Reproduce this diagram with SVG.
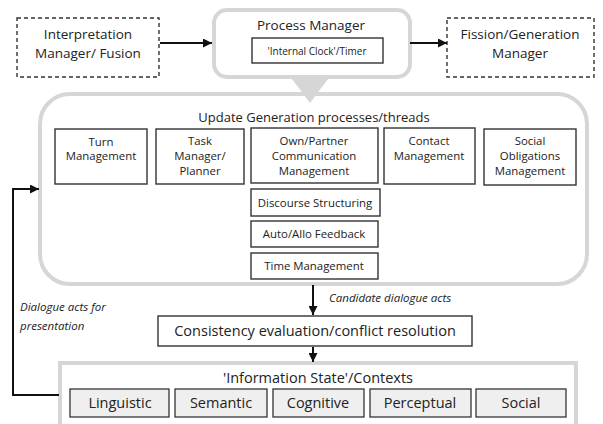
<svg xmlns="http://www.w3.org/2000/svg" width="603" height="424" viewBox="0 0 603 424">
  <defs>
    <marker id="arrow" viewBox="0 0 10 10" refX="10" refY="5" markerWidth="9" markerHeight="9" markerUnits="userSpaceOnUse" orient="auto">
      <path d="M0,0 L10,5 L0,10 z" fill="#111"/>
    </marker>
    <style>
      text { font-family: "Open Sans", "Liberation Sans", sans-serif; fill: #222; text-anchor: middle; }
      .dash { fill: #fff; stroke: #333; stroke-width: 1.4; stroke-dasharray: 4 3; }
      .soft { fill: #fff; stroke: #d6d6d6; stroke-width: 4; }
      .box { fill: #fff; stroke: #333; stroke-width: 1.4; }
      .ctx { fill: #efefef; stroke: #333; stroke-width: 1.3; }
      .conn { fill: none; stroke: #111; stroke-width: 2; }
      .t13 { font-size: 13.5px; }
      .t12 { font-size: 13px; }
      .t11 { font-size: 11.4px; }
      .t10 { font-size: 10px; }
      .t14 { font-size: 14.5px; }
      .it { font-style: italic; font-size: 11.5px; text-anchor: start; }
    </style>
  </defs>

  <!-- update generation container -->
  <g id="update-generation">
    <rect class="soft" x="40" y="94" width="547" height="190" rx="30"/>
    <text class="t12" x="314" y="122">Update Generation processes/threads</text>
  </g>

  <!-- process manager with callout tail -->
  <g id="process-manager">
    <rect class="soft" x="214" y="10" width="196" height="67" rx="13"/>
    <polygon points="292,79 328,79 310,103" fill="#d6d6d6"/>
    <text class="t13" x="311" y="30">Process Manager</text>
    <rect class="box" x="252" y="38" width="131" height="25"/>
    <text class="t10" x="317" y="55">'Internal Clock'/Timer</text>
  </g>

  <g id="interpretation-manager">
    <rect class="dash" x="17" y="18" width="142" height="59"/>
    <text class="t13" x="88" y="39">Interpretation</text>
    <text class="t13" x="88" y="58">Manager/ Fusion</text>
  </g>

  <g id="fission-manager">
    <rect class="dash" x="447" y="18" width="147" height="59"/>
    <text class="t13" x="520" y="39">Fission/Generation</text>
    <text class="t13" x="520" y="58">Manager</text>
  </g>

  <g id="turn-management">
    <rect class="box" x="55" y="129" width="92" height="55"/>
    <text class="t11" x="101" y="146">Turn</text>
    <text class="t11" x="101" y="160">Management</text>
  </g>

  <g id="task-manager">
    <rect class="box" x="156" y="129" width="88" height="55"/>
    <text class="t11" x="200" y="145">Task</text>
    <text class="t11" x="200" y="160">Manager/</text>
    <text class="t11" x="200" y="175">Planner</text>
  </g>

  <g id="communication-management">
    <rect class="box" x="251" y="128" width="127" height="55"/>
    <text class="t11" x="314" y="145">Own/Partner</text>
    <text class="t11" x="314" y="160">Communication</text>
    <text class="t11" x="314" y="175">Management</text>
  </g>

  <g id="contact-management">
    <rect class="box" x="384" y="128" width="91" height="56"/>
    <text class="t11" x="429" y="145">Contact</text>
    <text class="t11" x="429" y="160">Management</text>
  </g>

  <g id="social-obligations">
    <rect class="box" x="484" y="129" width="92" height="56"/>
    <text class="t11" x="530" y="145">Social</text>
    <text class="t11" x="530" y="160">Obligations</text>
    <text class="t11" x="530" y="175">Management</text>
  </g>

  <g id="discourse-structuring">
    <rect class="box" x="251" y="189" width="129" height="27"/>
    <text class="t11" x="315" y="207">Discourse Structuring</text>
  </g>

  <g id="feedback">
    <rect class="box" x="251" y="221" width="127" height="26"/>
    <text class="t11" x="314" y="238">Auto/Allo Feedback</text>
  </g>

  <g id="time-management">
    <rect class="box" x="251" y="253" width="127" height="26"/>
    <text class="t11" x="314" y="270">Time Management</text>
  </g>

  <g id="consistency-evaluation">
    <rect class="box" x="158" y="316" width="314" height="30"/>
    <text class="t14" x="315" y="336">Consistency evaluation/conflict resolution</text>
  </g>

  <g id="information-state">
    <rect class="soft" x="60" y="363" width="516" height="72"/>
    <text class="t14" x="318" y="383">'Information State'/Contexts</text>
    <rect class="ctx" x="70" y="389" width="99" height="28"/>
    <text class="t14" x="120" y="408">Linguistic</text>
    <rect class="ctx" x="175" y="389" width="92" height="28"/>
    <text class="t14" x="221" y="408">Semantic</text>
    <rect class="ctx" x="273" y="389" width="91" height="28"/>
    <text class="t14" x="318" y="408">Cognitive</text>
    <rect class="ctx" x="370" y="389" width="101" height="28"/>
    <text class="t14" x="420" y="408">Perceptual</text>
    <rect class="ctx" x="476" y="389" width="90" height="28"/>
    <text class="t14" x="521" y="408">Social</text>
  </g>

  <!-- connectors -->
  <g id="connectors">
    <line class="conn" x1="160" y1="43" x2="212" y2="43" marker-end="url(#arrow)"/>
    <line class="conn" x1="410" y1="43" x2="447" y2="43" marker-end="url(#arrow)"/>
    <line class="conn" x1="313" y1="285" x2="313" y2="315" marker-end="url(#arrow)"/>
    <line class="conn" x1="313" y1="347" x2="313" y2="362" marker-end="url(#arrow)"/>
    <polyline class="conn" points="59,395 13,395 13,189 39,189" marker-end="url(#arrow)"/>
    <text class="it" x="329" y="302">Candidate dialogue acts</text>
    <text class="it" x="20" y="311">Dialogue acts for</text>
    <text class="it" x="20" y="330">presentation</text>
  </g>
</svg>
